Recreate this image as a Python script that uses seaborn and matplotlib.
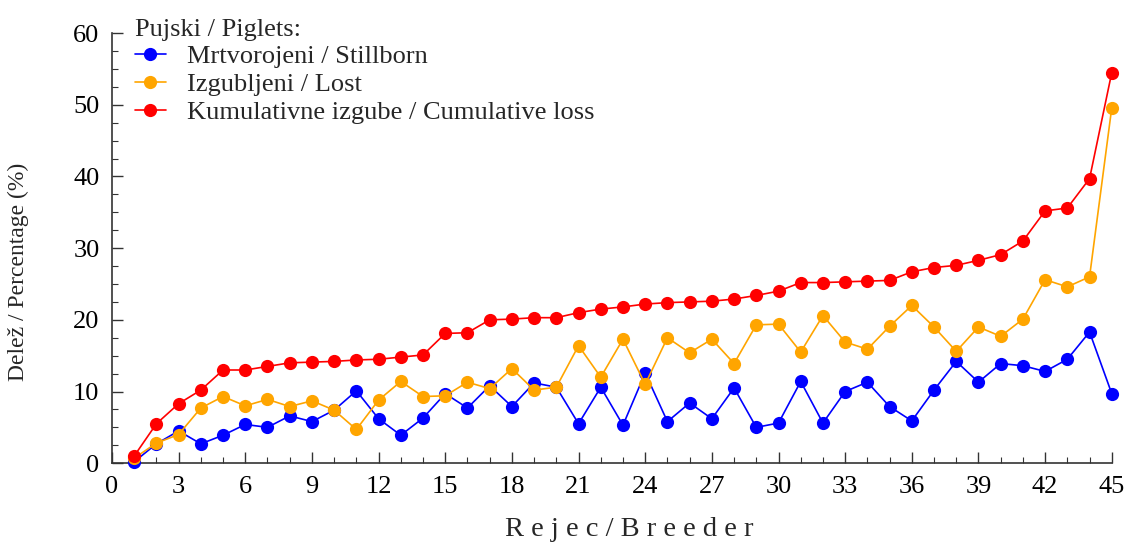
import numpy as np
import pandas as pd
import matplotlib
matplotlib.use("Agg")
import matplotlib.pyplot as plt
from matplotlib.ticker import MultipleLocator
import seaborn as sns

# values (breeder 1..45)
breeder = list(range(1, 46))
stillborn = [0.2, 2.7, 4.5, 2.7, 3.9, 5.4, 5.0, 6.6, 5.8, 7.4,
             10.1, 6.2, 3.9, 6.3, 9.7, 7.7, 10.8, 7.9, 11.2, 10.6,
             5.5, 10.6, 5.3, 12.6, 5.8, 8.4, 6.2, 10.5, 5.0, 5.6,
             11.4, 5.6, 10.0, 11.3, 7.9, 5.9, 10.2, 14.2, 11.3, 13.9,
             13.6, 12.8, 14.5, 18.3, 9.7]
lost = [0.7, 2.8, 4.0, 7.7, 9.3, 8.0, 8.9, 7.9, 8.7, 7.4,
        4.7, 8.8, 11.4, 9.3, 9.4, 11.3, 10.4, 13.2, 10.2, 10.6,
        16.4, 12.0, 17.3, 11.0, 17.5, 15.4, 17.3, 13.9, 19.3, 19.4,
        15.5, 20.6, 16.9, 15.9, 19.1, 22.0, 19.0, 15.6, 19.0, 17.7,
        20.1, 25.6, 24.6, 26.0, 49.6]
cumulative = [1.0, 5.5, 8.3, 10.2, 13.0, 13.0, 13.5, 14.0, 14.1, 14.2,
              14.4, 14.5, 14.8, 15.1, 18.1, 18.2, 20.0, 20.1, 20.3, 20.3,
              21.0, 21.5, 21.8, 22.2, 22.4, 22.5, 22.6, 22.9, 23.4, 24.0,
              25.2, 25.2, 25.3, 25.4, 25.5, 26.7, 27.3, 27.6, 28.3, 29.1,
              31.0, 35.2, 35.6, 39.7, 54.5]

labels = ["Mrtvorojeni / Stillborn", "Izgubljeni / Lost",
          "Kumulativne izgube / Cumulative loss"]
colors = ["#0000ff", "#ffa500", "#ff0000"]

df = pd.DataFrame({
    "breeder": breeder * 3,
    "value": stillborn + lost + cumulative,
    "series": [labels[0]] * 45 + [labels[1]] * 45 + [labels[2]] * 45,
})

sns.set_style("ticks")
plt.rcParams["font.family"] = ["Liberation Serif", "DejaVu Serif"]

fig = plt.figure(figsize=(11.31, 5.43), dpi=100)
ax = fig.add_axes([0.099, 0.147, 0.884, 0.792])

sns.lineplot(data=df, x="breeder", y="value", hue="series",
             hue_order=labels, palette=dict(zip(labels, colors)),
             marker="o", markersize=9.5, markeredgewidth=0, linewidth=1.2,
             legend=False, ax=ax, clip_on=False, zorder=3)

ax.set_xlim(0, 45)
ax.set_ylim(0, 60)
ax.xaxis.set_major_locator(MultipleLocator(3))
ax.xaxis.set_minor_locator(MultipleLocator(1))
ax.yaxis.set_major_locator(MultipleLocator(10))
ax.yaxis.set_minor_locator(MultipleLocator(2.5))
ax.tick_params(which="both", direction="in", colors="#333333", labelcolor="black",
               labelsize=19)
ax.tick_params(which="major", length=8, width=1)
ax.tick_params(which="minor", length=4, width=0.8)
ax.tick_params(axis="x", pad=9)
ax.tick_params(axis="y", pad=9)

sns.despine(ax=ax)
for s in ["left", "bottom"]:
    ax.spines[s].set_color("#333333")
    ax.spines[s].set_linewidth(1.2)

ax.set_xlabel("R e j e c / B r e e d e r", fontsize=20.5)
ax.set_ylabel("Delež / Percentage (%)", fontsize=17)
ax.xaxis.set_label_coords(0.517, -0.125)
ax.yaxis.set_label_coords(-0.083, 0.445)

handles = ax.get_lines()[:3]
leg = ax.legend(handles, labels, title="Pujski / Piglets:", loc="upper left",
                bbox_to_anchor=(0.012, 1.058), frameon=False, fontsize=19,
                title_fontsize=19, handlelength=1.2, handletextpad=0.8,
                labelspacing=0.16, borderaxespad=0)
leg._legend_box.align = "left"

fig.savefig("out.png", dpi=100)
